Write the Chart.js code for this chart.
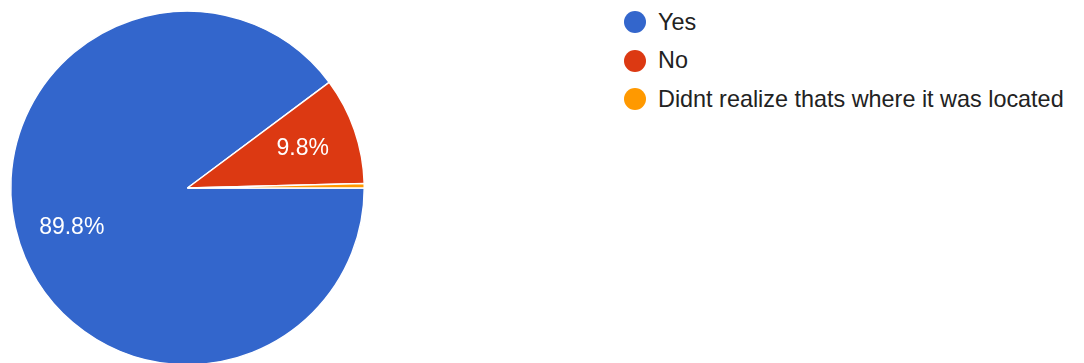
<!DOCTYPE html>
<html>
<head>
<meta charset="utf-8">
<script src="https://cdn.jsdelivr.net/npm/chart.js@4/dist/chart.umd.min.js"></script>
<style>
	html, body { margin: 0; padding: 0; background: #fff; overflow: hidden; width: 1084px; height: 363px; }
	#wrap { position: absolute; left: 0; top: 0; width: 375px; height: 376px; }
	#legend { position: absolute; left: 624px; top: 3px; font-family: "Liberation Sans", Arial, sans-serif; font-size: 23.4px; color: #222; }
	.item { height: 38.5px; display: flex; align-items: center; }
	.dot { width: 22px; height: 22px; border-radius: 50%; margin-right: 12px; }
</style>
</head>
<body>
<div id="wrap"><canvas id="pie" width="375" height="376"></canvas></div>
<div id="legend"></div>
<script>
document.addEventListener("DOMContentLoaded", function () {

	// data (220 / 24 / 1 responses)
	const labels = ['Yes', 'No', 'Didnt realize thats where it was located'];
	const counts = [220, 24, 1];
	const colors = ['#3366cc', '#dc3912', '#ff9900'];

	const total = counts.reduce((a, b) => a + b, 0);

	// percentage labels inside the slices
	const sliceLabels = {
		id: 'sliceLabels',
		afterDatasetsDraw(chart) {
			const c = chart.ctx;
			const meta = chart.getDatasetMeta(0);
			c.save();
			c.fillStyle = '#fff';
			c.font = '23px "Liberation Sans", Arial, sans-serif';
			c.textAlign = 'center';
			c.textBaseline = 'middle';
			meta.data.forEach(function (arc, i) {
				const share = counts[i] / total;
				if (share < 0.05) return;
				const mid = (arc.startAngle + arc.endAngle) / 2;
				const r = arc.outerRadius * 0.69;
				c.fillText((share * 100).toFixed(1) + '%', arc.x + Math.cos(mid) * r, arc.y + Math.sin(mid) * r + 1);
			});
			c.restore();
		}
	};

	new Chart(document.getElementById('pie'), {
		type: 'pie',
		data: {
			labels: labels,
			datasets: [{
				data: counts,
				backgroundColor: colors,
				borderColor: '#fff',
				borderWidth: 1.5,
				hoverOffset: 0
			}]
		},
		options: {
			responsive: false,
			animation: false,
			rotation: 90,
			layout: { padding: 10 },
			plugins: {
				legend: { display: false },
				tooltip: { enabled: false }
			}
		},
		plugins: [sliceLabels]
	});

	// legend on the right
	const legend = document.getElementById('legend');
	labels.forEach(function (name, i) {
		const row = document.createElement('div');
		row.className = 'item';
		const dot = document.createElement('span');
		dot.className = 'dot';
		dot.style.background = colors[i];
		const txt = document.createElement('span');
		txt.textContent = name;
		row.appendChild(dot);
		row.appendChild(txt);
		legend.appendChild(row);
	});
});
</script>
</body>
</html>
